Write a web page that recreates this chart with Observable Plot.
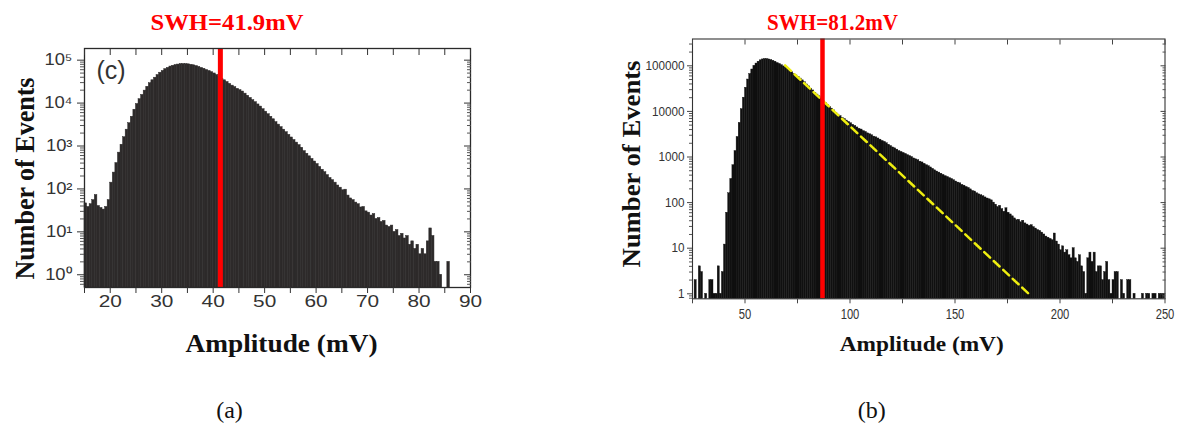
<!DOCTYPE html>
<html><head><meta charset="utf-8">
<script src="https://cdn.jsdelivr.net/npm/d3@7"></script>
<script src="https://cdn.jsdelivr.net/npm/@observablehq/plot@0.6"></script>
<style>
body{margin:0;background:#fff;width:1180px;height:425px;overflow:hidden;position:relative}
#a,#b{position:absolute;top:0}
#a{left:0}#b{left:590px}
</style></head><body><div id="a"></div><div id="b"></div>
<script>
// ---------- Panel (a) ----------
const binStartA = 15, binWidthA = 0.5;
const countsA = [
  46, 38, 44, 55, 72, 40, 36, 33, 38, 55,
  140, 240, 400, 700, 1070, 1600, 2400, 3400, 4800, 7000,
  9500, 12300, 15500, 19500, 24000, 29000, 34000, 39000, 45000, 51000,
  56000, 62000, 66000, 71000, 74000, 77000, 79000, 81000, 81500, 81000,
  80000, 78000, 76000, 73000, 69500, 66000, 63000, 59000, 56000, 52500,
  49000, 45000, 41000, 37000, 34000, 31000, 28000, 25500, 23500, 21500,
  20000, 18600, 16600, 14800, 13200, 11700, 10500, 9300, 8300, 7200,
  6300, 5500, 4800, 4200, 3600, 3150, 2750, 2400, 2100, 1820,
  1580, 1380, 1200, 1050, 910, 760, 660, 575, 500, 435,
  380, 325, 280, 245, 210, 180, 160, 140, 120, 107,
  93, 96, 70, 60, 55, 48, 44, 37, 38, 30,
  28, 24, 26, 20, 21, 17, 18, 14, 13, 14,
  10, 11, 8, 9, 7, 8, 5, 6, 4, 5,
  3, 4, 3, 6, 12, 8, 2, 2, 1, 0,
  0, 2
];
const swhLabelA = "SWH=41.9mV";
const swhLineA = 41.4;
const panelTagA = "(c)";
const captionA = "(a)";
const xTicksA = [20, 30, 40, 50, 60, 70, 80, 90];
const xTickMarksA = [15, 20, 25, 30, 35, 40, 45, 50, 55, 60, 65, 70, 75, 80, 85, 90];
const yTicksA = [1, 10, 100, 1000, 10000, 100000];
const yTickLabelsA = ["10⁰", "10¹", "10²", "10³", "10⁴", "10⁵"];
const xDomainA = [15, 90], yDomainA = [0.505, 1.87e5];

// ---------- Panel (b) ----------
const binStartB = 25, binWidthB = 1;
const countsB = [
  0, 2, 0, 4, 3, 0, 1, 0, 2, 2,            // 25-34
  1, 1, 4, 1, 3, 12, 60, 160, 330, 660,    // 35-44
  1350, 2750, 5600, 11200, 20000, 33000, 50000, 66000, 83000, 100000, // 45-54
  112000, 123000, 132000, 138000, 141000, 141000, 138000, 134000, 129000, 123000, // 55-64
  115000, 110000, 103000, 97000, 91000, 84000, 78000, 72000, 66000, 61500, // 65-74
  57500, 52500, 48000, 43500, 39000, 35500, 31600, 28800, 25700, 23400, // 75-84
  21400, 19500, 16600, 15100, 13800, 12600, 11500, 10500, 9300, 8500,  // 85-94
  7900, 7200, 6800, 6300, 5900, 5500, 5100, 4800, 4450, 4150,          // 95-104
  4000, 3700, 3550, 3300, 3150, 3000, 2800, 2700, 2550, 2400,          // 105-114
  2250, 2150, 2000, 1860, 1740, 1620, 1550, 1450, 1350, 1290,          // 115-124
  1230, 1170, 1100, 1050, 1000, 930, 890, 850, 790, 760,               // 125-134
  710, 660, 630, 590, 550, 510, 480, 455, 430, 405,                    // 135-144
  380, 365, 345, 330, 310, 290, 275, 265, 245, 235,                    // 145-154
  220, 210, 195, 180, 175, 160, 152, 145, 138, 130,                    // 155-164
  123, 118, 112, 100, 90, 80, 85, 72, 63, 75,                          // 165-174
  60, 55, 50, 45, 41, 42, 37, 40, 35, 33,                              // 175-184
  31, 32, 29, 27, 25, 24, 22, 20, 18, 17,                              // 185-194
  16, 15, 21, 14, 12, 9, 11, 8, 9, 7,                                  // 195-204
  6, 10, 6, 5, 7, 4, 3, 1, 6, 8,                                       // 205-214
  5, 8, 3, 4, 4, 2, 3, 5, 2, 1,                                        // 215-224
  2, 3, 3, 0, 2, 1, 0, 2, 2, 0,                                        // 225-234
  1, 0, 0, 0, 1, 0, 1, 1, 0, 1,                                        // 235-244
  1, 0, 1, 1, 1                                                        // 245-249
];
const swhLabelB = "SWH=81.2mV";
const swhLineB = 86.9;
const captionB = "(b)";
const fitX = [69.1, 186.5];
const fitY = [102000, 0.87];
const xTicksB = [50, 100, 150, 200, 250];
const xTickMarksB = [25, 50, 75, 100, 125, 150, 175, 200, 225, 250];
const yTicksB = [1, 10, 100, 1000, 10000, 100000];
const yTickLabelsB = ["1", "10", "100", "1000", "10000", "100000"];
const xDomainB = [25, 250], yDomainB = [0.777, 3.87e5];

const yLabel = "Number of Events";
const xLabel = "Amplitude (mV)";

// ---------- helpers ----------
const serif = "Liberation Serif, Times New Roman, serif";
const sans = "Liberation Sans, Arial, sans-serif";
const minorLog = ([lo, hi]) => d3.range(-1, 6)
  .flatMap(e => d3.range(2, 10).map(m => +(m * 10 ** e).toPrecision(3)))
  .filter(v => v > lo && v < hi);
const rowsOf = (counts, start, w) => counts
  .map((c, i) => ({x1: start + i * w, x2: start + (i + 1) * w, count: c}))
  .filter(d => d.count > 0);

// tick marks only (no text); inward ticks are shifted back by their length
function tickMarks(k, anchor, ticks, size, inward, stroke) {
  const shift = inward ? (anchor === "top" ? size : anchor === "right" ? -size : 0) : 0;
  const opts = {anchor, ticks, tickSize: size, tickFormat: () => "", label: null, stroke};
  if (k === "x") return Plot.axisX({...opts, dy: shift});
  return Plot.axisY({...opts, dx: shift});
}
function tickText(k, anchor, ticks, offset, fmt, fontSize) {
  const opts = {anchor, ticks, tickSize: 0, tickPadding: offset, tickFormat: fmt, label: null, fontSize, fill: "#333", stroke: "none"};
  return k === "x" ? Plot.axisX(opts) : Plot.axisY(opts);
}
function fitText(svg, content, len) {
  svg.querySelectorAll("text").forEach(t => {
    if (t.textContent !== content) return;
    t.setAttribute("textLength", len);
    t.setAttribute("lengthAdjust", "spacingAndGlyphs");
  });
}
function stretch(svg, label, k) {
  svg.querySelectorAll(`g[aria-label="${label}"] text`).forEach(t => {
    if (!t.textContent) return;
    const L = t.getComputedTextLength();
    t.setAttribute("textLength", L * k);
    t.setAttribute("lengthAdjust", "spacingAndGlyphs");
  });
}

// ---------- Plot (a) ----------
const fillA = "#2d2a2a";
const labMapA = new Map(yTicksA.map((v, i) => [v, yTickLabelsA[i]]));
const A = Plot.plot({
  width: 590, height: 425,
  marginLeft: 84, marginRight: 120, marginTop: 48, marginBottom: 138,
  x: {domain: xDomainA, axis: null},
  y: {type: "log", domain: yDomainA, axis: null},
  style: {fontFamily: sans, background: "transparent", overflow: "visible"},
  marks: [
    Plot.rectY(rowsOf(countsA, binStartA, binWidthA), {x1: "x1", x2: "x2", y1: yDomainA[0], y2: "count", fill: fillA, stroke: fillA, strokeWidth: 0.5}),
    Plot.ruleX([swhLineA], {stroke: "#ff0000", strokeWidth: 5}),
    Plot.frame({stroke: "#2a2a2a", strokeWidth: 1.3}),
    tickMarks("x", "bottom", xTickMarksA, 6, false, "#333"),
    tickMarks("x", "top", xTickMarksA, 6, true, "#333"),
    tickText("x", "bottom", xTicksA, 8, d => String(d), 16),
    tickMarks("y", "left", yTicksA, 7, false, "#333"),
    tickMarks("y", "left", minorLog(yDomainA), 4, false, "#555"),
    tickMarks("y", "right", yTicksA, 7, true, "#333"),
    tickMarks("y", "right", minorLog(yDomainA), 4, true, "#555"),
    tickText("y", "left", yTicksA, 12, d => labMapA.get(d), 16),
    Plot.text([panelTagA], {frameAnchor: "top-left", dx: 12, dy: 30, textAnchor: "start", lineAnchor: "bottom", fontSize: 25, fill: "#333"}),
    Plot.text([swhLabelA], {frameAnchor: "top", dx: -50.5, dy: -19, textAnchor: "middle", lineAnchor: "bottom", fontSize: 24, fontWeight: "bold", fontFamily: serif, fill: "#ff0000"}),
    Plot.text([yLabel], {frameAnchor: "left", rotate: -90, dx: -51, dy: 10.5, textAnchor: "middle", lineAnchor: "bottom", fontSize: 28, fontWeight: "bold", fontFamily: serif, fill: "#111"}),
    Plot.text([xLabel], {frameAnchor: "bottom", dx: 4, dy: 64.7, textAnchor: "middle", lineAnchor: "bottom", fontSize: 25, fontWeight: "bold", fontFamily: serif, fill: "#111"}),
    Plot.text([captionA], {frameAnchor: "bottom", dx: -48, dy: 130, textAnchor: "middle", lineAnchor: "bottom", fontSize: 24, fontFamily: serif, fill: "#111"})
  ]
});
document.getElementById("a").append(A);
fitText(A, swhLabelA, 153);
fitText(A, yLabel, 202);
fitText(A, xLabel, 192);
stretch(A, "x-axis tick label", 1.3);
stretch(A, "y-axis tick label", 1.15);

// ---------- Plot (b) ----------
const fillB = "#101010";
const labMapB = new Map(yTicksB.map((v, i) => [v, yTickLabelsB[i]]));
const fitRows = fitX.map((x, i) => ({x, y: fitY[i]}));
const B = Plot.plot({
  width: 590, height: 425,
  marginLeft: 102, marginRight: 15.5, marginTop: 38.5, marginBottom: 126.7,
  x: {domain: xDomainB, axis: null},
  y: {type: "log", domain: yDomainB, axis: null},
  style: {fontFamily: sans, background: "transparent", overflow: "visible"},
  marks: [
    Plot.rectY(rowsOf(countsB, binStartB, binWidthB), {x1: "x1", x2: "x2", y1: yDomainB[0], y2: "count", fill: fillB, stroke: fillB, strokeWidth: 0.4}),
    Plot.line(fitRows, {x: "x", y: "y", stroke: "#eeee10", strokeWidth: 2.5, strokeDasharray: "8,5"}),
    Plot.ruleX([swhLineB], {stroke: "#ff0000", strokeWidth: 4.5}),
    Plot.frame({stroke: "#333", strokeWidth: 1.1}),
    tickMarks("x", "bottom", xTickMarksB, 5, false, "#444"),
    tickMarks("x", "top", xTickMarksB, 5, true, "#444"),
    tickText("x", "bottom", xTicksB, 10, d => String(d), 14),
    tickMarks("y", "left", yTicksB, 5, false, "#444"),
    tickMarks("y", "left", minorLog(yDomainB), 3, false, "#555"),
    tickMarks("y", "right", yTicksB, 5, true, "#444"),
    tickMarks("y", "right", minorLog(yDomainB), 3, true, "#555"),
    tickText("y", "left", yTicksB, 8, d => labMapB.get(d), 13),
    Plot.text([swhLabelB], {frameAnchor: "top", dx: -96.25, dy: -9.3, textAnchor: "middle", lineAnchor: "bottom", fontSize: 24, fontWeight: "bold", fontFamily: serif, fill: "#ff0000"}),
    Plot.text([yLabel], {frameAnchor: "left", rotate: -90, dx: -53, dy: -4.9, textAnchor: "middle", lineAnchor: "bottom", fontSize: 25, fontWeight: "bold", fontFamily: serif, fill: "#111"}),
    Plot.text([xLabel], {frameAnchor: "bottom", dx: -7, dy: 51.7, textAnchor: "middle", lineAnchor: "bottom", fontSize: 22, fontWeight: "bold", fontFamily: serif, fill: "#111"}),
    Plot.text([captionB], {frameAnchor: "bottom", dx: -57, dy: 118.7, textAnchor: "middle", lineAnchor: "bottom", fontSize: 24, fontFamily: serif, fill: "#111"})
  ]
});
document.getElementById("b").append(B);
fitText(B, swhLabelB, 131);
fitText(B, yLabel, 207);
fitText(B, xLabel, 164);
stretch(B, "x-axis tick label", 0.8);
stretch(B, "y-axis tick label", 0.9);
</script>
</body></html>
